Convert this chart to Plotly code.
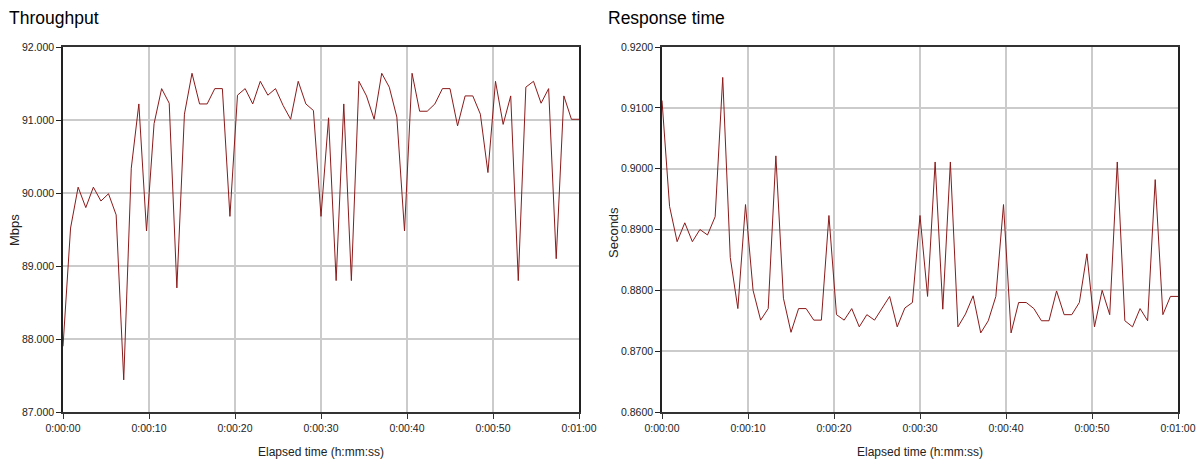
import plotly.graph_objects as go

# Elapsed time of each sample, seconds
elapsed_s = [0.00, 0.88, 1.76, 2.65, 3.53, 4.41, 5.29, 6.18, 7.06, 7.94,
             8.82, 9.71, 10.59, 11.47, 12.35, 13.24, 14.12, 15.00, 15.88, 16.76,
             17.65, 18.53, 19.41, 20.29, 21.18, 22.06, 22.94, 23.82, 24.71, 25.59,
             26.47, 27.35, 28.24, 29.12, 30.00, 30.88, 31.76, 32.65, 33.53, 34.41,
             35.29, 36.18, 37.06, 37.94, 38.82, 39.71, 40.59, 41.47, 42.35, 43.24,
             44.12, 45.00, 45.88, 46.76, 47.65, 48.53, 49.41, 50.29, 51.18, 52.06,
             52.94, 53.82, 54.71, 55.59, 56.47, 57.35, 58.24, 59.12, 60.00]

throughput_mbps = [87.90, 89.52, 90.08, 89.80, 90.08, 89.89, 89.99, 89.70, 87.44, 90.34,
                   91.22, 89.48, 90.95, 91.43, 91.23, 88.70, 91.08, 91.64, 91.22, 91.22,
                   91.43, 91.43, 89.68, 91.34, 91.43, 91.22, 91.53, 91.34, 91.43, 91.20,
                   91.01, 91.53, 91.22, 91.13, 89.68, 91.03, 88.80, 91.22, 88.80, 91.53,
                   91.33, 91.01, 91.64, 91.45, 91.04, 89.48, 91.64, 91.12, 91.12, 91.22,
                   91.43, 91.43, 90.92, 91.33, 91.33, 91.08, 90.28, 91.53, 90.94, 91.33,
                   88.80, 91.45, 91.53, 91.23, 91.43, 89.10, 91.33, 91.01, 91.01]

response_s = [0.9112, 0.8938, 0.8880, 0.8911, 0.8880, 0.8900, 0.8891, 0.8921, 0.9150, 0.8854,
              0.8770, 0.8941, 0.8800, 0.8751, 0.8770, 0.9021, 0.8787, 0.8731, 0.8770, 0.8770,
              0.8751, 0.8751, 0.8923, 0.8760, 0.8751, 0.8770, 0.8740, 0.8760, 0.8751, 0.8770,
              0.8790, 0.8740, 0.8771, 0.8780, 0.8923, 0.8790, 0.9011, 0.8769, 0.9011, 0.8740,
              0.8761, 0.8791, 0.8730, 0.8750, 0.8790, 0.8941, 0.8730, 0.8780, 0.8780, 0.8770,
              0.8750, 0.8750, 0.8799, 0.8760, 0.8760, 0.8780, 0.8860, 0.8740, 0.8800, 0.8760,
              0.9011, 0.8750, 0.8740, 0.8770, 0.8750, 0.8982, 0.8760, 0.8790, 0.8790]

x_tick_vals = [0, 10, 20, 30, 40, 50, 60]
x_tick_text = ["0:00:00", "0:00:10", "0:00:20", "0:00:30", "0:00:40", "0:00:50", "0:01:00"]

W, H = 1204, 465
FONT = "Liberation Sans, Arial, sans-serif"
LINE_COLOR = "#8B1A1A"

fig = go.Figure()
fig.add_trace(go.Scatter(x=elapsed_s, y=throughput_mbps, mode="lines",
                         line=dict(color=LINE_COLOR, width=1), xaxis="x", yaxis="y",
                         showlegend=False, hoverinfo="x+y"))
fig.add_trace(go.Scatter(x=elapsed_s, y=response_s, mode="lines",
                         line=dict(color=LINE_COLOR, width=1), xaxis="x2", yaxis="y2",
                         showlegend=False, hoverinfo="x+y"))

def px_x(p):
    return p / W

def px_y(p):
    return 1 - p / H

common_x = dict(range=[0, 60], tickmode="array", tickvals=x_tick_vals, ticktext=x_tick_text,
                showgrid=True, gridcolor="#cbcbcb", gridwidth=1.5, zeroline=False,
                showline=True, linecolor="#333333", linewidth=2, mirror=True,
                ticks="outside", ticklen=5, tickcolor="#333333", tickwidth=1,
                tickfont=dict(family=FONT, size=10.5, color="#222222"),
                fixedrange=True, automargin=False)
common_y = dict(showgrid=True, gridcolor="#cbcbcb", gridwidth=1.5, zeroline=False,
                showline=True, linecolor="#222222", linewidth=1.5, mirror=True,
                ticks="outside", ticklen=5, tickcolor="#222222", tickwidth=1,
                tickfont=dict(family=FONT, size=10.5, color="#222222"),
                fixedrange=True, automargin=False)

fig.update_layout(
    template="none",
    width=W, height=H, autosize=False,
    margin=dict(l=0, r=0, t=0, b=0, pad=0),
    paper_bgcolor="white", plot_bgcolor="white",
    xaxis=dict(domain=[px_x(63), px_x(579)], anchor="y", **common_x),
    yaxis=dict(domain=[px_y(412), px_y(47)], anchor="x", range=[87, 92], dtick=1,
               tick0=87, tickformat=".3f", **common_y),
    xaxis2=dict(domain=[px_x(662), px_x(1178)], anchor="y2", **common_x),
    yaxis2=dict(domain=[px_y(412), px_y(47)], anchor="x2", range=[0.86, 0.92], dtick=0.01,
                tick0=0.86, tickformat=".4f", **common_y),
)

annots = [
    dict(text="Throughput", x=px_x(7), y=px_y(18), xanchor="left", yanchor="middle",
         font=dict(family=FONT, size=17.5, color="#000000")),
    dict(text="Response time", x=px_x(606), y=px_y(18), xanchor="left", yanchor="middle",
         font=dict(family=FONT, size=17.5, color="#000000")),
    dict(text="Mbps", x=px_x(14), y=px_y(230), xanchor="center", yanchor="middle",
         textangle=-90, font=dict(family=FONT, size=13, color="#222222")),
    dict(text="Seconds", x=px_x(613), y=px_y(233), xanchor="center", yanchor="middle",
         textangle=-90, font=dict(family=FONT, size=13, color="#222222")),
    dict(text="Elapsed time (h:mm:ss)", x=px_x(321), y=px_y(452), xanchor="center",
         yanchor="middle", font=dict(family=FONT, size=12, color="#222222")),
    dict(text="Elapsed time (h:mm:ss)", x=px_x(920), y=px_y(452), xanchor="center",
         yanchor="middle", font=dict(family=FONT, size=12, color="#222222")),
]
for a in annots:
    fig.add_annotation(xref="paper", yref="paper", showarrow=False, **a)

fig.write_html("out.html")
